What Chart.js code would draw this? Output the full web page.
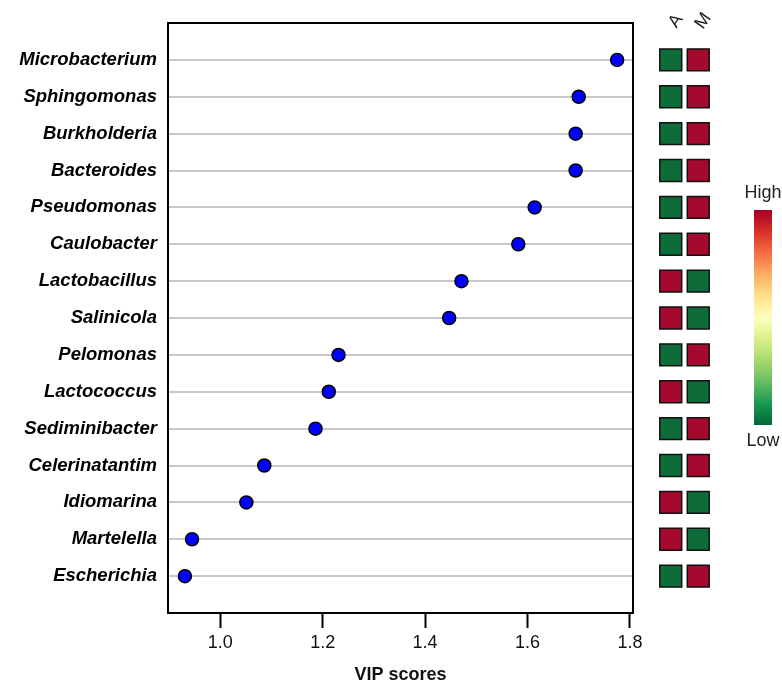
<!DOCTYPE html>
<html lang="en">
<head>
    <meta charset="UTF-8">
    <title>VIP scores</title>
    <style>
        body { margin: 0; background: #fff; }
        #wrap { position: relative; width: 782px; height: 686px; }
        #vipChart { position: absolute; left: 0; top: 0; }
        #heatChart { position: absolute; left: 640px; top: 0; }
    </style>
</head>
<body>
    <script src="https://cdn.jsdelivr.net/npm/chart.js"></script>
    <div id="wrap">
        <canvas id="vipChart" width="782" height="686"></canvas>
        <canvas id="heatChart" width="142" height="686"></canvas>
    </div>
    <script>
        const genera = ['Microbacterium','Sphingomonas','Burkholderia','Bacteroides','Pseudomonas','Caulobacter','Lactobacillus','Salinicola','Pelomonas','Lactococcus','Sediminibacter','Celerinatantim','Idiomarina','Martelella','Escherichia'];
        const vipScores = [1.775, 1.700, 1.694, 1.694, 1.614, 1.582, 1.471, 1.447, 1.231, 1.212, 1.186, 1.086, 1.051, 0.945, 0.931];
        // 1 = high, 0 = low
        const heatA = [0, 0, 0, 0, 0, 0, 1, 1, 0, 1, 0, 0, 1, 1, 0];
        const heatM = [1, 1, 1, 1, 1, 1, 0, 0, 1, 0, 1, 1, 0, 0, 1];
        const groups = ['A', 'M'];
        const xTicks = [1.0, 1.2, 1.4, 1.6, 1.8];

        const FONT = "'Liberation Sans', Arial, sans-serif";
        const LOW = '#0e6c3b', HIGH = '#a50a2e';

        // main dot chart
        const boxPlugin = {
            id: 'box',
            afterDatasetsDraw(chart) {
                const a = chart.chartArea, ctx = chart.ctx;
                ctx.save();
                ctx.strokeStyle = '#000';
                ctx.lineWidth = 2;
                ctx.strokeRect(a.left, a.top, a.right - a.left, a.bottom - a.top);
                ctx.restore();
            }
        };

        new Chart(document.getElementById('vipChart'), {
            type: 'scatter',
            data: {
                datasets: [{
                    data: vipScores.map((v, i) => ({ x: v, y: i + 1 })),
                    backgroundColor: '#0000ff',
                    borderColor: '#000',
                    borderWidth: 1.5,
                    pointRadius: 6.5
                }]
            },
            options: {
                responsive: false,
                animation: false,
                devicePixelRatio: 1,
                layout: { padding: { top: 23, right: 149, left: 0, bottom: 0 } },
                plugins: { legend: { display: false }, tooltip: { enabled: false } },
                scales: {
                    x: {
                        type: 'linear',
                        min: 0.898,
                        max: 1.806,
                        afterFit(s) { s.height = 73; },
                        afterBuildTicks(s) { s.ticks = xTicks.map(v => ({ value: v })); },
                        ticks: {
                            includeBounds: false,
                            padding: 4,
                            color: '#111',
                            font: { family: FONT, size: 18 },
                            callback: v => v.toFixed(1)
                        },
                        grid: { drawOnChartArea: false, drawTicks: true, tickLength: 15, tickColor: '#000', tickWidth: 2 },
                        border: { display: false },
                        title: {
                            display: true,
                            text: 'VIP scores',
                            color: '#111',
                            font: { family: FONT, size: 18, weight: 'bold' },
                            padding: { top: 0, bottom: 0 }
                        }
                    },
                    y: {
                        type: 'linear',
                        min: 0,
                        max: 16,
                        reverse: true,
                        afterFit(s) { s.width = 168; },
                        ticks: {
                            stepSize: 1,
                            padding: 11,
                            color: '#000',
                            font: { family: FONT, size: 18.5, weight: 'bold', style: 'italic' },
                            callback: v => genera[v - 1] || ''
                        },
                        grid: {
                            drawTicks: false,
                            lineWidth: 2,
                            color: c => (c.tick && c.tick.value >= 1 && c.tick.value <= genera.length) ? '#c8c8c8' : 'rgba(0,0,0,0)'
                        },
                        border: { display: false }
                    }
                }
            },
            plugins: [boxPlugin]
        });

        // heatmap + colour key
        const heatPoints = [];
        const heatColors = [];
        [heatA, heatM].forEach((col, c) => {
            col.forEach((v, i) => {
                heatPoints.push({ x: c + 1, y: i + 1 });
                heatColors.push(v ? HIGH : LOW);
            });
        });

        const keyPlugin = {
            id: 'key',
            afterDraw(chart) {
                const ctx = chart.ctx, xs = chart.scales.x;
                ctx.save();
                // column labels
                ctx.fillStyle = '#222';
                ctx.font = '18px ' + FONT;
                ctx.textAlign = 'center';
                ctx.textBaseline = 'middle';
                groups.forEach((g, i) => {
                    ctx.save();
                    ctx.translate(xs.getPixelForValue(i + 1) + 5, 21);
                    ctx.rotate(-55 * Math.PI / 180);
                    ctx.fillText(g, 0, 0);
                    ctx.restore();
                });
                // colour bar
                const x0 = 114, w = 18, y0 = 210, y1 = 425;
                const grad = ctx.createLinearGradient(0, y0, 0, y1);
                const stops = ['#a50026','#d73027','#f46d43','#fdae61','#fee08b','#ffffbf','#d9ef8b','#a6d96a','#66bd63','#1a9850','#006837'];
                stops.forEach((s, i) => grad.addColorStop(i / (stops.length - 1), s));
                ctx.fillStyle = grad;
                ctx.fillRect(x0, y0, w, y1 - y0);
                ctx.fillStyle = '#222';
                ctx.font = '18px ' + FONT;
                ctx.fillText('High', x0 + w / 2, 193);
                ctx.fillText('Low', x0 + w / 2, 441);
                ctx.restore();
            }
        };

        new Chart(document.getElementById('heatChart'), {
            type: 'scatter',
            data: {
                datasets: [{
                    data: heatPoints,
                    pointStyle: 'rect',
                    pointRadius: 15.5,
                    backgroundColor: heatColors,
                    borderColor: '#111',
                    borderWidth: 1.5
                }]
            },
            options: {
                responsive: false,
                animation: false,
                devicePixelRatio: 1,
                layout: { padding: { top: 23, bottom: 73, left: 15, right: 70 } },
                plugins: { legend: { display: false }, tooltip: { enabled: false } },
                scales: {
                    x: { type: 'linear', min: 0.5, max: 2.5, display: false },
                    y: { type: 'linear', min: 0, max: 16, reverse: true, display: false }
                }
            },
            plugins: [keyPlugin]
        });
    </script>
</body>
</html>
